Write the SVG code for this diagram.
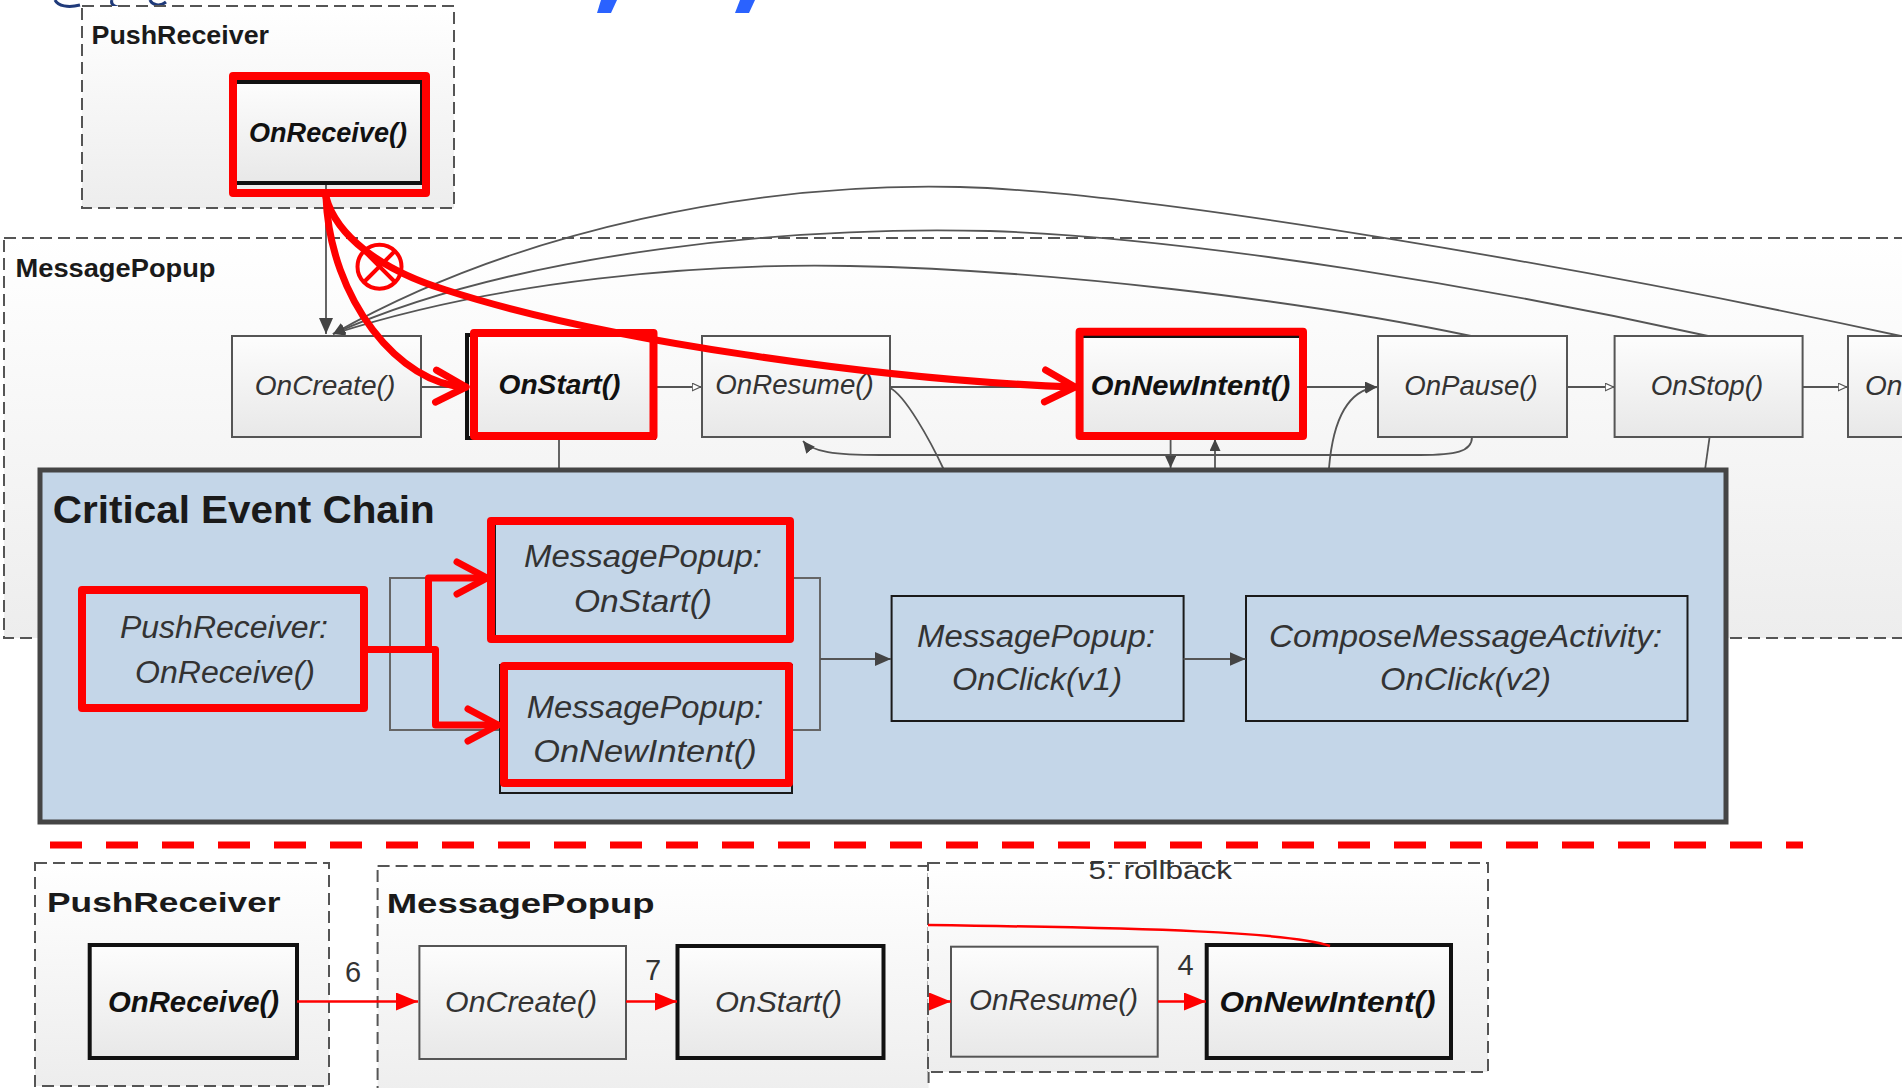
<svg xmlns="http://www.w3.org/2000/svg" width="1902" height="1088" viewBox="0 0 1902 1088">
  <style>
    text { font-family: "Liberation Sans", Arial, sans-serif; }
    .lbl { font-weight: bold; fill: #1a1a1a; }
    .fn { font-style: italic; fill: #333; }
    .fnb { font-style: italic; font-weight: bold; fill: #111; }
    .num { fill: #333; }
    .cont { fill: url(#contFill); stroke: #555; stroke-width: 2; stroke-dasharray: 12 6; }
    .node { fill: url(#nodeFill); stroke: #555; stroke-width: 2; }
    .nodeb { fill: url(#nodeFill); stroke: #111; stroke-width: 4; }
    .cbox { fill: #c4d6e8; stroke: #1a1a1a; stroke-width: 2; }
    .hl { fill: none; stroke: #ff0000; stroke-width: 8; stroke-linejoin: round; }
    .cx { fill: none; stroke: #555; stroke-width: 1.8; }
    .rx { fill: none; stroke: #ff0000; stroke-width: 7; stroke-linecap: round; stroke-linejoin: round; }
    .rt { fill: none; stroke: #ff0000; stroke-width: 2.5; }
  </style>
  <defs>
    <linearGradient id="contFill" x1="0" y1="0" x2="0" y2="1">
      <stop offset="0" stop-color="#ffffff"/>
      <stop offset="1" stop-color="#ededed"/>
    </linearGradient>
    <linearGradient id="nodeFill" x1="0" y1="0" x2="0" y2="1">
      <stop offset="0" stop-color="#fdfdfd"/>
      <stop offset="1" stop-color="#e8e8e8"/>
    </linearGradient>
    <marker id="arrGray" markerWidth="16" markerHeight="14" refX="16" refY="7" orient="auto" markerUnits="userSpaceOnUse">
      <path d="M0,0 L16,7 L0,14 z" fill="#444"/>
    </marker>
    <marker id="arrMid" markerWidth="12" markerHeight="11" refX="12" refY="5.5" orient="auto" markerUnits="userSpaceOnUse">
      <path d="M0,0 L12,5.5 L0,11 z" fill="#444"/>
    </marker>
    <marker id="arrSmall" markerWidth="10" markerHeight="9" refX="9.5" refY="4.5" orient="auto" markerUnits="userSpaceOnUse">
      <path d="M0.7,0.7 L9,4.5 L0.7,8.3 z" fill="#fff" stroke="#555" stroke-width="1.2"/>
    </marker>
    <marker id="arrRed" markerWidth="22" markerHeight="18" refX="22" refY="9" orient="auto" markerUnits="userSpaceOnUse">
      <path d="M0,0 L22,9 L0,18 z" fill="#ff0000"/>
    </marker>
    <marker id="chev" markerWidth="40" markerHeight="44" refX="34" refY="22" orient="auto" markerUnits="userSpaceOnUse" overflow="visible">
      <path d="M4,6 L34,22 L4,38" fill="none" stroke="#ff0000" stroke-width="7" stroke-linecap="round" stroke-linejoin="round"/>
    </marker>
    <clipPath id="rollClip">
      <rect x="928" y="930" width="40" height="60"/>
    </clipPath>
  </defs>

  <rect width="1902" height="1088" fill="#ffffff"/>

  <!-- cut-off header fragments along the top edge -->
  <g id="header-fragments">
    <path d="M55,0 C58,6 68,8 80,5" fill="none" stroke="#1f3a7a" stroke-width="3"/>
    <path d="M112,0 C110,5 116,8 124,7" fill="none" stroke="#1f3a7a" stroke-width="3"/>
    <path d="M150,0 C152,5 160,7 166,2" fill="none" stroke="#1f3a7a" stroke-width="3"/>
    <polygon points="601,0 617,0 611,13 597,13" fill="#2a62ff"/>
    <polygon points="740,0 755,0 749,13 735,13" fill="#2a62ff"/>
  </g>

  <!-- upper lifecycle view -->
  <g id="pushreceiver-top">
    <rect class="cont" x="82" y="6" width="372" height="202"/>
    <text class="lbl" x="91.5" y="44" font-size="25" textLength="177.5" lengthAdjust="spacingAndGlyphs">PushReceiver</text>
  </g>
  <g id="messagepopup-top">
    <rect class="cont" x="4" y="238" width="1920" height="400"/>
    <text class="lbl" x="15.5" y="277" font-size="25" textLength="200" lengthAdjust="spacingAndGlyphs">MessagePopup</text>
  </g>

  <g id="connectors-top">
    <path class="cx" d="M326,183 L326,334" marker-end="url(#arrGray)"/>
    <path class="cx" d="M1910,338 C1600,270 1150,192 960,187 C760,182 520,228 333,334" marker-end="url(#arrMid)"/>
    <path class="cx" d="M1708,336 C1500,290 1200,238 990,231 C800,226 520,250 333,334" marker-end="url(#arrMid)"/>
    <path class="cx" d="M1471,336 C1300,300 1050,270 850,266 C700,263 500,280 333,334" marker-end="url(#arrMid)"/>
    <path class="cx" d="M421,387 L466,387" marker-end="url(#arrSmall)"/>
    <path class="cx" d="M656,387 L701,387" marker-end="url(#arrSmall)"/>
    <path class="cx" d="M890,387 L1080,387"/>
    <path class="cx" d="M1303,387 L1377,387" marker-end="url(#arrMid)"/>
    <path class="cx" d="M1329,468 C1333,420 1348,390 1377,387" marker-end="url(#arrMid)"/>
    <path class="cx" d="M1567,387 L1614,387" marker-end="url(#arrSmall)"/>
    <path class="cx" d="M1803,387 L1847,387" marker-end="url(#arrSmall)"/>
    <path class="cx" d="M1472,437 C1472,452 1455,455 1420,455 L880,455 C835,455 812,452 803,441" marker-end="url(#arrMid)"/>
    <path class="cx" d="M890,388 C905,395 930,440 944,470"/>
    <path class="cx" d="M1170.6,438 L1170.6,468" marker-end="url(#arrMid)"/>
    <path class="cx" d="M1215,470 L1215,439" marker-end="url(#arrMid)"/>
    <path class="cx" d="M559,440 L559,470"/>
    <path class="cx" d="M1709.6,437 L1705,470"/>
  </g>

  <g id="top-onreceive">
    <rect class="nodeb" x="235" y="82" width="187" height="101"/>
    <text class="fnb" x="328" y="142" font-size="27" text-anchor="middle" textLength="158" lengthAdjust="spacingAndGlyphs">OnReceive()</text>
  </g>
  <g id="top-oncreate">
    <rect class="node" x="232" y="336" width="189" height="101"/>
    <text class="fn" x="325" y="395" font-size="28" text-anchor="middle" textLength="140.6" lengthAdjust="spacingAndGlyphs">OnCreate()</text>
  </g>
  <g id="top-onstart">
    <rect class="nodeb" x="467" y="335" width="187" height="103"/>
    <text class="fnb" x="559.5" y="394" font-size="28" text-anchor="middle" textLength="122" lengthAdjust="spacingAndGlyphs">OnStart()</text>
  </g>
  <g id="top-onresume">
    <rect class="node" x="702" y="336" width="188" height="101"/>
    <text class="fn" x="794.5" y="394" font-size="28" text-anchor="middle" textLength="158.5" lengthAdjust="spacingAndGlyphs">OnResume()</text>
  </g>
  <g id="top-onnewintent">
    <rect class="nodeb" x="1081" y="336" width="220" height="101"/>
    <text class="fnb" x="1190.5" y="395" font-size="28" text-anchor="middle" textLength="199.6" lengthAdjust="spacingAndGlyphs">OnNewIntent()</text>
  </g>
  <g id="top-onpause">
    <rect class="node" x="1378" y="336" width="189" height="101"/>
    <text class="fn" x="1471" y="395" font-size="28" text-anchor="middle" textLength="133.5" lengthAdjust="spacingAndGlyphs">OnPause()</text>
  </g>
  <g id="top-onstop">
    <rect class="node" x="1614.6" y="336" width="188" height="101"/>
    <text class="fn" x="1707" y="395" font-size="28" text-anchor="middle" textLength="112.6" lengthAdjust="spacingAndGlyphs">OnStop()</text>
  </g>
  <g id="top-ondestroy">
    <rect class="node" x="1848" y="336" width="120" height="101"/>
    <text class="fn" x="1865" y="395" font-size="28">On</text>
  </g>

  <!-- critical event chain panel -->
  <g id="critical-event-chain">
    <rect x="40" y="470" width="1686" height="352" fill="#c4d6e8" stroke="#454545" stroke-width="5"/>
    <text class="lbl" x="52.8" y="523" font-size="38" textLength="382" lengthAdjust="spacingAndGlyphs" fill="#111">Critical Event Chain</text>
    <rect x="390" y="578" width="430" height="152" fill="none" stroke="#666" stroke-width="2"/>
  </g>
  <g id="cec-pushreceiver-onreceive">
    <rect class="cbox" x="85" y="590" width="278" height="117"/>
    <text class="fn" x="224" y="638" font-size="31" text-anchor="middle" textLength="208" lengthAdjust="spacingAndGlyphs">PushReceiver:</text>
    <text class="fn" x="225" y="683" font-size="31" text-anchor="middle" textLength="180" lengthAdjust="spacingAndGlyphs">OnReceive()</text>
  </g>
  <g id="cec-messagepopup-onstart">
    <rect class="cbox" x="495" y="520" width="293" height="117"/>
    <text class="fn" x="643" y="567" font-size="31" text-anchor="middle" textLength="238" lengthAdjust="spacingAndGlyphs">MessagePopup:</text>
    <text class="fn" x="643" y="612" font-size="31" text-anchor="middle" textLength="138" lengthAdjust="spacingAndGlyphs">OnStart()</text>
  </g>
  <g id="cec-messagepopup-onnewintent">
    <rect class="cbox" x="500" y="665" width="292" height="128"/>
    <text class="fn" x="645" y="718" font-size="31" text-anchor="middle" textLength="236.5" lengthAdjust="spacingAndGlyphs">MessagePopup:</text>
    <text class="fn" x="645" y="762" font-size="31" text-anchor="middle" textLength="223.5" lengthAdjust="spacingAndGlyphs">OnNewIntent()</text>
  </g>
  <g id="cec-messagepopup-onclick">
    <rect class="cbox" x="891.6" y="596" width="292" height="125"/>
    <text class="fn" x="1036" y="647" font-size="31" text-anchor="middle" textLength="238" lengthAdjust="spacingAndGlyphs">MessagePopup:</text>
    <text class="fn" x="1037" y="690" font-size="31" text-anchor="middle" textLength="170" lengthAdjust="spacingAndGlyphs">OnClick(v1)</text>
  </g>
  <g id="cec-composemessage-onclick">
    <rect class="cbox" x="1246" y="596" width="441.5" height="125"/>
    <text class="fn" x="1465.5" y="647" font-size="31" text-anchor="middle" textLength="393" lengthAdjust="spacingAndGlyphs">ComposeMessageActivity:</text>
    <text class="fn" x="1465.5" y="690" font-size="31" text-anchor="middle" textLength="171" lengthAdjust="spacingAndGlyphs">OnClick(v2)</text>
  </g>
  <g id="connectors-cec">
    <path class="cx" d="M820,659 L891,659" marker-end="url(#arrGray)" stroke-width="2"/>
    <path class="cx" d="M1183.5,659 L1245.5,659" marker-end="url(#arrGray)" stroke-width="2"/>
  </g>

  <!-- red highlights and the broken delivery path -->
  <g id="highlights">
    <rect class="hl" x="233" y="76" width="193" height="117"/>
    <rect class="hl" x="474" y="333" width="179.5" height="103"/>
    <rect class="hl" x="1079.6" y="331.7" width="223.4" height="104.3"/>
    <rect class="hl" x="82" y="590" width="282" height="118"/>
    <rect class="hl" x="491" y="521" width="299" height="118"/>
    <rect class="hl" x="504" y="666" width="285" height="117"/>
  </g>
  <g id="connectors-red">
    <path class="rx" d="M326,197 C330,300 400,385 466,387" marker-end="url(#chev)"/>
    <path class="rx" d="M326,197 C336,235 380,270 446,290 C600,340 880,380 1075,387" marker-end="url(#chev)"/>
    <path class="rx" d="M368,649.5 L428.5,649.5 L428.5,578 L487,578" marker-end="url(#chev)"/>
    <path class="rx" d="M368,649.5 L435.5,649.5 L435.5,725 L498,725" marker-end="url(#chev)"/>
    <circle cx="379.5" cy="266.7" r="22" fill="none" stroke="#ff0000" stroke-width="4"/>
    <path d="M364,251 L395,282 M395,251 L364,282" stroke="#ff0000" stroke-width="4"/>
  </g>

  <path id="separator" d="M50,845 L1803,845" stroke="#ff0000" stroke-width="7" stroke-dasharray="32 24"/>

  <!-- lower replay view -->
  <g id="pushreceiver-bottom">
    <rect class="cont" x="35" y="863" width="294" height="223"/>
    <text class="lbl" x="47" y="912" font-size="28" textLength="233.6" lengthAdjust="spacingAndGlyphs">PushReceiver</text>
  </g>
  <g id="messagepopup-bottom">
    <rect class="cont" x="377.6" y="866" width="551" height="240"/>
    <text class="lbl" x="386.7" y="913" font-size="28" textLength="268" lengthAdjust="spacingAndGlyphs">MessagePopup</text>
  </g>
  <text class="num" x="920" y="976" font-size="29" clip-path="url(#rollClip)">3</text>
  <g id="rollback">
    <rect class="cont" x="928" y="863" width="560" height="209"/>
    <text class="num" x="1088.5" y="879" font-size="26" textLength="143.5" lengthAdjust="spacingAndGlyphs">5: rollback</text>
  </g>
  <g id="bottom-onreceive">
    <rect class="nodeb" x="89.7" y="945" width="207.3" height="113"/>
    <text class="fnb" x="193.5" y="1012" font-size="29" text-anchor="middle" textLength="171" lengthAdjust="spacingAndGlyphs">OnReceive()</text>
  </g>
  <g id="bottom-oncreate">
    <rect class="node" x="419.4" y="946" width="206.6" height="113"/>
    <text class="fn" x="521" y="1012" font-size="30" text-anchor="middle" textLength="152" lengthAdjust="spacingAndGlyphs">OnCreate()</text>
  </g>
  <g id="bottom-onstart">
    <rect class="nodeb" x="677.5" y="946" width="206" height="112"/>
    <text class="fn" x="778.5" y="1012" font-size="30" text-anchor="middle" textLength="127" lengthAdjust="spacingAndGlyphs">OnStart()</text>
  </g>
  <g id="bottom-onresume">
    <rect class="node" x="951" y="946.7" width="206.7" height="110"/>
    <text class="fn" x="1053.5" y="1010" font-size="30" text-anchor="middle" textLength="169" lengthAdjust="spacingAndGlyphs">OnResume()</text>
  </g>
  <g id="bottom-onnewintent">
    <rect class="nodeb" x="1206.7" y="945" width="244.3" height="113"/>
    <text class="fnb" x="1327.5" y="1012" font-size="30" text-anchor="middle" textLength="216" lengthAdjust="spacingAndGlyphs">OnNewIntent()</text>
  </g>
  <g id="connectors-bottom">
    <path class="rt" d="M297,1001.5 L418,1001.5" marker-end="url(#arrRed)"/>
    <path class="rt" d="M626,1001.5 L677,1001.5" marker-end="url(#arrRed)"/>
    <path class="rt" d="M929,1001.5 L951,1001.5" marker-end="url(#arrRed)"/>
    <path class="rt" d="M1158,1001.5 L1206,1001.5" marker-end="url(#arrRed)"/>
    <path class="rt" d="M928,925 C1150,928 1290,932 1330,946"/>
    <text class="num" x="353" y="982" font-size="29" text-anchor="middle">6</text>
    <text class="num" x="653" y="980" font-size="29" text-anchor="middle">7</text>
    <text class="num" x="1185.5" y="975" font-size="29" text-anchor="middle">4</text>
  </g>
</svg>
